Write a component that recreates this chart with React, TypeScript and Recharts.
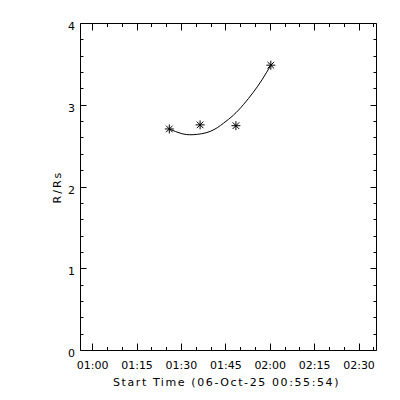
import { ComposedChart, Line, Scatter, XAxis, YAxis, Label } from 'recharts';

// minutes after the start time 00:55:54
const obsTimes = [30.0, 40.4, 52.5, 64.3];
const obsHeights = [2.71, 2.76, 2.75, 3.49];

// fitted curve
const fitTimes = [30.0, 34.0, 38.1, 43.8, 48.3, 51.7, 55.1, 58.4, 61.3, 64.3];
const fitHeights = [2.71, 2.655, 2.64, 2.68, 2.78, 2.88, 3.01, 3.16, 3.31, 3.49];

// 5 minute tick marks, labelled every 15 minutes
const xTickValues = [
  4.1, 9.1, 14.1, 19.1, 24.1, 29.1, 34.1, 39.1, 44.1, 49.1,
  54.1, 59.1, 64.1, 69.1, 74.1, 79.1, 84.1, 89.1, 94.1, 99.1,
];
const xMajorValues = [4.1, 19.1, 34.1, 49.1, 64.1, 79.1, 94.1];
const xMajorLabels = ['01:00', '01:15', '01:30', '01:45', '02:00', '02:15', '02:30'];

const yTickValues = [
  0, 0.2, 0.4, 0.6, 0.8, 1, 1.2, 1.4, 1.6, 1.8, 2,
  2.2, 2.4, 2.6, 2.8, 3, 3.2, 3.4, 3.6, 3.8, 4,
];
const yMajorValues = [0, 1, 2, 3, 4];

const obsData = obsTimes.map((t, i) => ({ t, r: obsHeights[i] }));
const fitData = fitTimes.map((t, i) => ({ t, r: fitHeights[i] }));

const FONT = '"DejaVu Sans", sans-serif';

// layout: plot box runs from x 80.5 to 376.5
const LEFT_W = 80.5;
const RIGHT_W = 10;
const RIGHT_MARGIN = 13.5;
const PLOT_W = 400 - LEFT_W - RIGHT_W - RIGHT_MARGIN;

// snap to pixel centre so 1px tick marks stay sharp
const px = (v: number) => Math.round(v - 0.5) + 0.5;

function BottomTick({ x, y, payload }: any) {
  const idx = xMajorValues.indexOf(payload.value);
  const len = idx >= 0 ? 7 : 3.5;
  return (
    <g>
      <path d={`M${px(x)},${y}V${y - len}`} stroke="#000" strokeWidth={1} fill="none" />
      {idx >= 0 && (
        <text x={x} y={y + 18.5} textAnchor="middle" fontSize={11} fontFamily={FONT} fill="#000">
          {xMajorLabels[idx]}
        </text>
      )}
    </g>
  );
}

function TopTick({ x, y, payload }: any) {
  const len = xMajorValues.includes(payload.value) ? 7 : 3.5;
  return <path d={`M${px(x)},${y}V${y + len}`} stroke="#000" strokeWidth={1} fill="none" />;
}

// draws the left tick, its mirror on the right edge, and the label
function LeftTick({ x, y, payload }: any) {
  const major = yMajorValues.includes(payload.value);
  const len = major ? 6 : 3;
  const right = x + PLOT_W;
  return (
    <g>
      <path
        d={`M${x},${px(y)}H${x + len}M${right},${px(y)}H${right - len}`}
        stroke="#000"
        strokeWidth={1}
        fill="none"
      />
      {major && (
        <text x={x - 5.5} y={y + 6.5} textAnchor="end" fontSize={11} fontFamily={FONT} fill="#000">
          {payload.value}
        </text>
      )}
    </g>
  );
}

function Asterisk({ cx, cy }: any) {
  const r = 4.5;
  const d = 3.3;
  return (
    <path
      d={`M${cx - r},${cy}H${cx + r}M${cx},${cy - r}V${cy + r}M${cx - d},${cy - d}L${cx + d},${cy + d}M${cx - d},${cy + d}L${cx + d},${cy - d}`}
      stroke="#000"
      strokeWidth={1}
      fill="none"
    />
  );
}

function YTitle({ viewBox }: any) {
  const cy = viewBox.y + viewBox.height / 2;
  return (
    <text
      x={60.5}
      y={cy}
      transform={`rotate(-90, 60.5, ${cy})`}
      textAnchor="middle"
      fontSize={11}
      fontFamily={FONT}
      letterSpacing={2}
      fill="#000"
    >
      R/Rs
    </text>
  );
}

function XTitle({ viewBox }: any) {
  const cx = viewBox.x + viewBox.width / 2 - 2;
  return (
    <text
      x={cx}
      y={viewBox.y + 35}
      textAnchor="middle"
      fontSize={11}
      fontFamily={FONT}
      letterSpacing={1.6}
      fill="#000"
    >
      Start Time (06-Oct-25 00:55:54)
    </text>
  );
}

export default function App() {
  return (
    <div style={{ position: 'absolute', left: 0, top: 0, width: 400, height: 400, background: '#fff' }}>
      <ComposedChart
        width={400}
        height={400}
        data={fitData}
        margin={{ top: 18.5, right: RIGHT_MARGIN, bottom: 0, left: 0 }}
      >
        <XAxis
          dataKey="t"
          type="number"
          domain={[0, 100]}
          ticks={xTickValues}
          interval={0}
          height={49.5}
          tickSize={0}
          tickMargin={0}
          tickLine={false}
          tick={<BottomTick />}
          axisLine={{ stroke: '#000' }}
        >
          <Label content={<XTitle />} />
        </XAxis>
        <XAxis
          xAxisId="top"
          orientation="top"
          dataKey="t"
          type="number"
          domain={[0, 100]}
          ticks={xTickValues}
          interval={0}
          height={5}
          tickSize={0}
          tickMargin={0}
          tickLine={false}
          tick={<TopTick />}
          axisLine={{ stroke: '#000' }}
        />
        <YAxis
          type="number"
          domain={[0, 4]}
          ticks={yTickValues}
          interval={0}
          width={LEFT_W}
          tickSize={0}
          tickMargin={0}
          tickLine={false}
          tick={<LeftTick />}
          axisLine={{ stroke: '#000' }}
        >
          <Label content={<YTitle />} />
        </YAxis>
        <YAxis
          yAxisId="right"
          orientation="right"
          type="number"
          domain={[0, 4]}
          width={RIGHT_W}
          tick={false}
          tickLine={false}
          axisLine={{ stroke: '#000' }}
        />
        <Line
          dataKey="r"
          type="natural"
          stroke="#000"
          strokeWidth={1}
          dot={false}
          isAnimationActive={false}
        />
        <Scatter data={obsData} dataKey="r" shape={<Asterisk />} isAnimationActive={false} />
      </ComposedChart>
    </div>
  );
}
